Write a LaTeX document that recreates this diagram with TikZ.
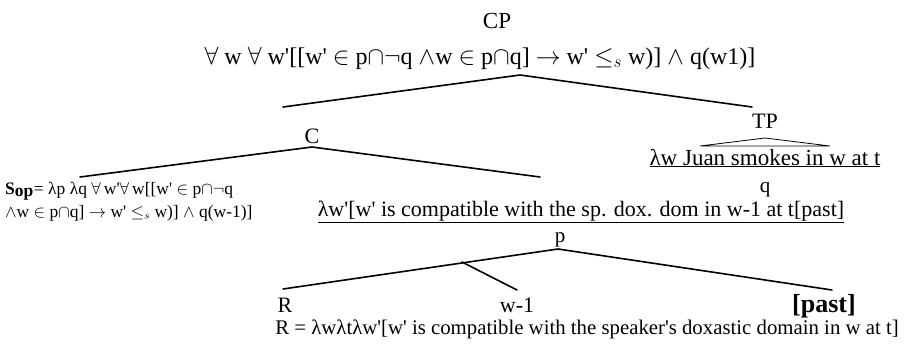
\documentclass[tikz,border=0pt]{standalone}
\usepackage{fontspec}
\newfontfamily\tnr{Liberation Serif}
\newcommand{\mfa}{\ensuremath{\forall}}
\newcommand{\mel}{\ensuremath{\in}}
\newcommand{\mcap}{\ensuremath{\cap}}
\newcommand{\mneg}{\ensuremath{\neg}}
\newcommand{\mand}{\ensuremath{\wedge}}
\newcommand{\marr}{\ensuremath{\rightarrow}}
\newcommand{\mleqs}{\ensuremath{\leq_{s}}}
\tikzset{
  lbl/.style={inner sep=0pt, anchor=base, font=\tnr\fontsize{22}{26}\selectfont},
  txt/.style={inner sep=0pt, anchor=base, font=\tnr\fontsize{21}{24}\selectfont},
  small/.style={inner sep=0pt, anchor=base west, font=\tnr\fontsize{17.5}{18}\selectfont},
  branch/.style={line width=1.6pt, line cap=round}
}
\begin{document}
\begin{tikzpicture}[x=1pt,y=-1pt]
\useasboundingbox (0,0) rectangle (905,349);
% labels
\node[lbl, font=\tnr\fontsize{23}{26}\selectfont] (cp) at (497,28) {CP};
\node[txt, font=\tnr\fontsize{24}{26}\selectfont] (cpf) at (480,64) {\mfa\ w \mfa\ w'[[w' \mel\ p\mcap\mneg q \mand w \mel\ p\mcap q] \marr\ w' \mleqs\ w)] \mand\ q(w1)]};
\node[lbl] (c) at (312,143) {C};
\node[lbl] (tp) at (765,128) {TP};
\node[txt, font=\tnr\fontsize{23}{26}\selectfont] (tpf) at (765,165) {\underline{λw Juan smokes in w at t}};
\node[txt] (q) at (765,192) {q};
\node[small] (sop1) at (5,194) {\textbf{S}\ensuremath{_{\textbf{op}}}= λp λq \mfa\,w'\mfa\,w[[w' \mel\ p\mcap\mneg q};
\node[small] (sop2) at (5,217) {\mand w \mel\ p\mcap q] \marr\ w' \mleqs\ w)] \mand\ q(w-1)]};
\node[txt, font=\tnr\fontsize{22}{26}\selectfont] (pf) at (581,216) {\underline{λw'[w' is compatible with the sp. dox. dom in w-1 at t[past]}};
\node[txt] (p) at (560,242) {p};
\node[lbl] (r) at (285,312) {R};
\node[lbl] (w1) at (517,312) {w-1};
\node[lbl, font=\tnr\fontsize{26}{28}\selectfont] (past) at (824,312) {\textbf{[past]}};
\node[txt, font=\tnr\fontsize{20.8}{24}\selectfont] (rdef) at (587,334) {R = λwλtλw'[w' is compatible with the speaker's doxastic domain in w at t]};
% branch points
\coordinate (cpT) at (520,75);
\coordinate (cpL) at (283,107);
\coordinate (cpR) at (752,107);
\coordinate (cT) at (312,147);
\coordinate (cL) at (80,177);
\coordinate (cR) at (540,177);
\coordinate (tpT) at (765,138);
\coordinate (tpL) at (700,146);
\coordinate (tpR) at (830,146);
\coordinate (pT) at (558,249);
\coordinate (pL) at (283,289);
\coordinate (pR) at (832,290);
\coordinate (pM) at (462,262);
\coordinate (pW) at (517,290);
\draw[branch] (cpL) -- (cpT) -- (cpR);
\draw[branch] (cL) -- (cT) -- (cR);
\draw[line width=0.8pt] (tpL) -- (tpT) -- (tpR) -- cycle;
\draw[branch] (pL) -- (pT) -- (pR);
\draw[branch] (pM) -- (pW);
\end{tikzpicture}
\end{document}
